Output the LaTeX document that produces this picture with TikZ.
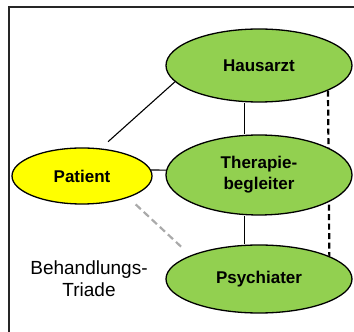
\documentclass[tikz,border=0pt]{standalone}
\usepackage{fontspec}
\setmainfont{Liberation Sans}
\usetikzlibrary{shapes.geometric,backgrounds}
\definecolor{triadgreen}{RGB}{146,208,80}
\definecolor{triadyellow}{RGB}{255,255,0}
\definecolor{linkgray}{RGB}{170,170,170}
\tikzset{
  role/.style={ellipse, draw, line width=1.3pt, fill=triadgreen, inner sep=0pt,
    minimum width=186pt, font=\fontsize{17}{21}\selectfont\bfseries, align=center},
  link/.style={line width=1.1pt},
}
\begin{document}
\begin{tikzpicture}[x=1pt,y=1pt]
    \clip (0,0) rectangle (354,332);
    % Rahmen
    \draw[line width=2.3pt, black!85] (9,-20) -- (9,325) -- (380,325);

    % Beteiligte
    \node[role, minimum height=73pt] (hausarzt) at (259,266.5) {Hausarzt};
    \node[role, minimum height=80pt] (begleiter) at (259,157) {Therapie-\\begleiter};
    \node[role, minimum height=68pt] (psychiater) at (259,53) {Psychiater};
    \node[ellipse, draw, line width=1.3pt, fill=triadyellow, inner sep=0pt,
      minimum width=140pt, minimum height=56pt,
      font=\fontsize{17}{21}\selectfont\bfseries] (patient) at (82,156) {Patient};

    % Beschriftung
    \node[font=\fontsize{19}{22}\selectfont, align=center] (triade) at (89,53) {Behandlungs-\\Triade};

    % Verbindungen
    \begin{scope}[on background layer]
        \draw[link, shorten <=10pt] (patient.56) -- (hausarzt.191);
        \draw[link] (patient.5) -- (begleiter.177);
        \draw[link] ([xshift=-14.5pt]hausarzt.south) -- ([xshift=-14.5pt]begleiter.north);
        \draw[link] ([xshift=-14.5pt]begleiter.south) -- ([xshift=-14.5pt]psychiater.north);
        \draw[line width=2.2pt, linkgray, dash pattern=on 7pt off 4pt,
          shorten <=10pt, shorten >=10pt] (patient.335) -- (psychiater.161.5);
        \draw[line width=2.2pt, dash pattern=on 6pt off 3.5pt] (hausarzt.340) -- (psychiater.18);
    \end{scope}
\end{tikzpicture}
\end{document}
